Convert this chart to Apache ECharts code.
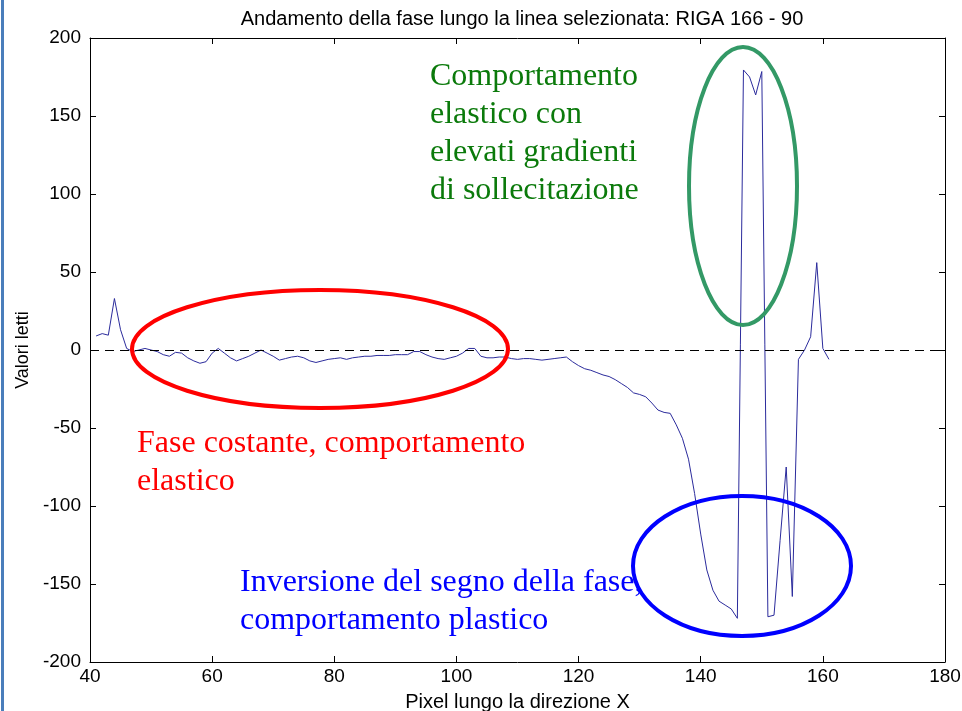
<!DOCTYPE html>
<html>
<head>
<meta charset="utf-8">
<style>
  html, body { margin: 0; padding: 0; background: #fff; }
  #chart { width: 962px; height: 711px; }
</style>
<script src="https://cdn.jsdelivr.net/npm/echarts@6/dist/echarts.min.js"></script>
</head>
<body>
<div id="chart"></div>
<script>
// pixel index along X
var pixelX = [];
for (var i = 41; i <= 161; i++) pixelX.push(i);

// phase values, one per pixel 41..161
var phaseValues = [
  9, 10.5, 9.5, 33, 13, 1, -1, 0, 1, 0,
  -1, -3, -4, -1.5, -2, -5, -7, -8.5, -7.5, -2,
  1, -2, -5, -7, -5.5, -4, -2, 0, -2, -4,
  -6.5, -5.5, -4.5, -4, -5, -7, -8, -7, -6, -5.5,
  -5, -6, -5, -4.5, -4, -4, -3.5, -3.5, -3.5, -3,
  -3, -3, -1, -1, -3, -4.5, -5.5, -6, -5, -4,
  -2, 1, 1, -4, -5, -5, -4.5, -4.5, -5.5, -6,
  -5.5, -5.5, -6, -6.5, -6, -5.5, -5, -4.5, -7.5, -10,
  -12, -13, -14.5, -16, -17, -19, -21.5, -24, -27.5, -28.5,
  -30, -34, -38.5, -40, -40.6, -48, -56.6, -70, -92, -118,
  -141, -154, -161, -163.5, -166, -172, 179.5, 175, 163.5, 178.5,
  -171, -170, -122, -75, -158, -6, 0, 8.5, 56, 1,
  -6
];

var xTicks = [40, 60, 80, 100, 120, 140, 160, 180];
var yTicks = [-200, -150, -100, -50, 0, 50, 100, 150, 200];

var titleText = 'Andamento della fase lungo la linea selezionata: RIGA 166 - 90';
var greenNote = ['Comportamento', 'elastico con', 'elevati gradienti', 'di sollecitazione'];
var redNote = ['Fase costante, comportamento', 'elastico'];
var blueNote = ['Inversione del segno della fase,', 'comportamento plastico'];

var points = pixelX.map(function (x, k) { return [x, phaseValues[k]]; });

var chart = echarts.init(document.getElementById('chart'));

var axisFont = { fontFamily: 'Liberation Sans', fontSize: 19, color: '#000' };
var boxLine = { show: true, onZero: false, lineStyle: { color: '#000', width: 1 } };
var inTicks = { show: true, inside: true, length: 6, lineStyle: { color: '#000' } };

function noteLines(lines, x, y0, color) {
  return lines.map(function (t, k) {
    return {
      type: 'text', left: x, top: y0 + k * 38, z: 20,
      style: { text: t, fill: color, font: '32px "Liberation Serif"' }
    };
  });
}

chart.setOption({
  animation: false,
  backgroundColor: '#fff',
  title: {
    text: titleText, left: 517, top: 4, textAlign: 'center',
    textStyle: { fontFamily: 'Liberation Sans', fontSize: 20, fontWeight: 'normal', color: '#000' }
  },
  grid: { left: 90, right: 17, top: 38, bottom: 49, outerBoundsMode: 'none', containLabel: false },
  xAxis: [{
    type: 'value', min: xTicks[0], max: xTicks[xTicks.length - 1], interval: 20,
    name: 'Pixel lungo la direzione X', nameLocation: 'middle', nameGap: 30,
    nameTextStyle: Object.assign({}, axisFont, { fontSize: 20 }),
    axisLine: boxLine, axisTick: inTicks, splitLine: { show: false },
    axisLabel: Object.assign({ margin: 5 }, axisFont)
  }, {
    type: 'value', position: 'top', min: xTicks[0], max: xTicks[xTicks.length - 1], interval: 20,
    axisLine: boxLine, axisTick: inTicks, splitLine: { show: false }, axisLabel: { show: false }
  }],
  yAxis: [{
    type: 'value', min: yTicks[0], max: yTicks[yTicks.length - 1], interval: 50,
    name: 'Valori letti', nameLocation: 'middle', nameGap: 52, nameRotate: 90,
    nameTextStyle: Object.assign({}, axisFont, { fontSize: 18 }),
    axisLine: boxLine, axisTick: inTicks, splitLine: { show: false },
    axisLabel: Object.assign({ margin: 9 }, axisFont)
  }, {
    type: 'value', position: 'right', min: yTicks[0], max: yTicks[yTicks.length - 1], interval: 50,
    axisLine: boxLine, axisTick: inTicks, splitLine: { show: false }, axisLabel: { show: false }
  }],
  series: [{
    type: 'line',
    data: points,
    showSymbol: false,
    lineStyle: { color: '#2b2b9c', width: 1 },
    markLine: {
      silent: true, symbol: 'none', label: { show: false },
      lineStyle: { color: '#000', type: [9, 6], width: 1 },
      data: [{ yAxis: 0 }]
    }
  }],
  graphic: [
    { type: 'rect', left: 1, top: 0, shape: { width: 3, height: 711 }, style: { fill: '#4a7ebb' } },
    { type: 'ellipse', shape: { cx: 320, cy: 349, rx: 188, ry: 59 }, z: 15,
      style: { fill: 'none', stroke: '#ff0000', lineWidth: 4 } },
    { type: 'ellipse', shape: { cx: 743, cy: 186, rx: 54, ry: 139 }, z: 15,
      style: { fill: 'none', stroke: '#339966', lineWidth: 4 } },
    { type: 'ellipse', shape: { cx: 742, cy: 566, rx: 109, ry: 70 }, z: 15,
      style: { fill: 'none', stroke: '#0000ff', lineWidth: 4 } }
  ].concat(
    noteLines(greenNote, 430, 61, '#0b7a0b'),
    noteLines(redNote, 137, 428, '#ff0000'),
    noteLines(blueNote, 240, 567, '#0000ff')
  )
});
</script>
</body>
</html>
